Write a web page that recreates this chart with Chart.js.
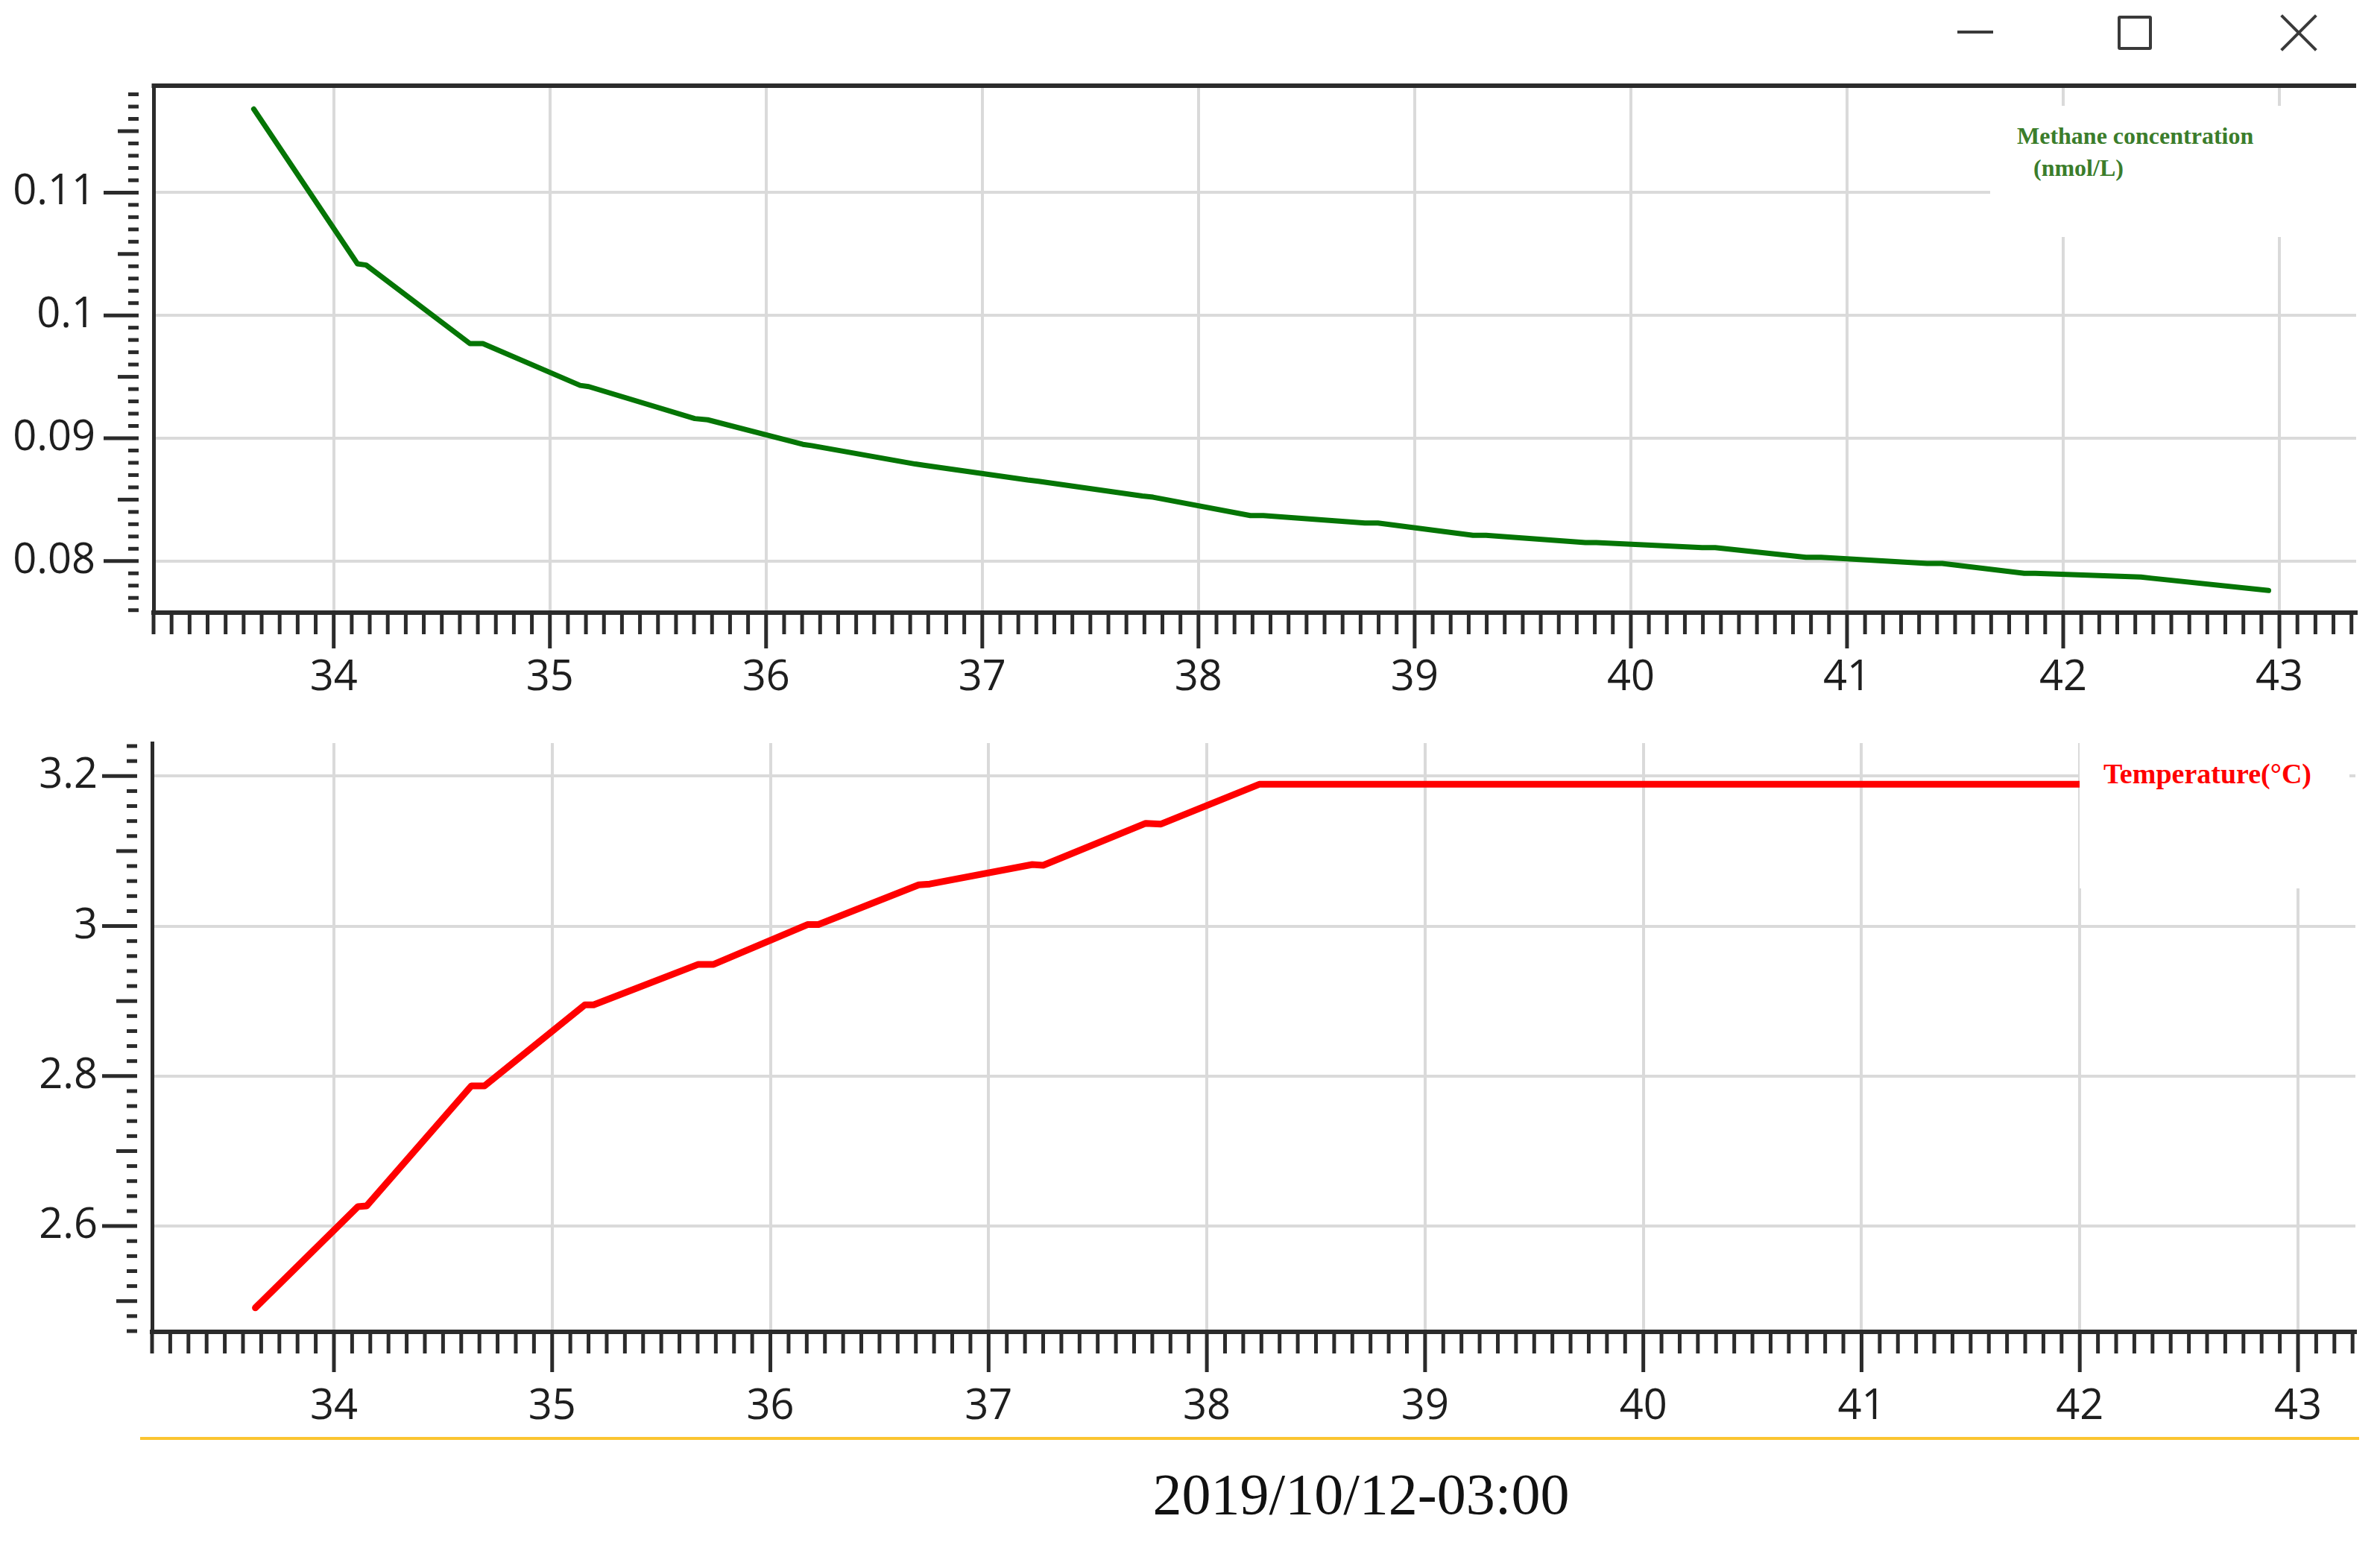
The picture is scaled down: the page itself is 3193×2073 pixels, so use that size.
<!DOCTYPE html>
<html>
<head>
<meta charset="utf-8">
<script src="https://cdn.jsdelivr.net/npm/chart.js@4.4.1/dist/chart.umd.min.js"></script>
<style>
  html, body { margin: 0; padding: 0; background: #fff; }
  body { position: relative; width: 3193px; height: 2073px; overflow: hidden; }
  canvas { position: absolute; left: 0; }
  #ch4-chart { top: 0; }
  #temp-chart { top: 960px; }
  .legend-box { position: absolute; background: #fff; }
  .legend-box span { position: absolute; white-space: nowrap; font-family: "Liberation Serif", "Times New Roman", serif; font-weight: bold; line-height: 1; }
  .win-min { position: absolute; left: 2626px; top: 41px; width: 48px; height: 4px; background: #3a3a3a; }
  .win-max { position: absolute; left: 2841px; top: 21px; width: 38px; height: 38px; border: 4px solid #3a3a3a; border-radius: 3px; }
  .win-close { position: absolute; left: 3060px; top: 20px; width: 48px; height: 48px; }
  .win-close::before, .win-close::after { content: ""; position: absolute; left: -9px; top: 22px; width: 66px; height: 4px; background: #3a3a3a; }
  .win-close::before { transform: rotate(45deg); }
  .win-close::after { transform: rotate(-45deg); }
  #rule { position: absolute; left: 188px; top: 1928px; width: 2977px; height: 4px; background: #fbc531; }
  #date-title { position: absolute; left: 1326px; top: 1966px; width: 1000px; text-align: center; font-family: "Liberation Serif", "Times New Roman", serif; font-size: 78px; line-height: 1; color: #111; }
</style>
</head>
<body>
<div class="win-min"></div>
<div class="win-max"></div>
<div class="win-close"></div>

<canvas id="ch4-chart" width="3193" height="960"></canvas>
<canvas id="temp-chart" width="3193" height="960"></canvas>

<div class="legend-box" style="left:2670px; top:142px; width:495px; height:176px;">
  <span style="left:36px; top:24px; font-size:32px; color:#3b7d2b;">Methane concentration</span>
  <span style="left:58px; top:67px; font-size:32px; color:#3b7d2b;">(nmol/L)</span>
</div>
<div class="legend-box" style="left:2790px; top:997px; width:362px; height:195px;">
  <span style="left:32px; top:22px; font-size:38px; color:#ff0000;">Temperature(°C)</span>
</div>

<div id="rule"></div>
<div id="date-title">2019/10/12-03:00</div>

<script>
// ---------------- Data (hours) ----------------
const CH4_TIME = [33.63, 34.11, 34.15, 34.63, 34.69, 35.14, 35.18, 35.67, 35.73, 36.17, 36.21,
  36.69, 36.73, 37.21, 37.26, 37.74, 37.79, 38.24, 38.30, 38.77, 38.83, 39.27, 39.33,
  39.79, 39.84, 40.33, 40.39, 40.81, 40.88, 41.37, 41.44, 41.82, 41.87, 42.36, 42.41, 42.95];
const CH4_VALUE = [0.1168, 0.1042, 0.1041, 0.0977, 0.0977, 0.0943, 0.0942, 0.0916, 0.0915, 0.0895, 0.0894,
  0.0879, 0.0878, 0.0866, 0.0865, 0.0853, 0.0852, 0.0837, 0.0837, 0.0831, 0.0831, 0.0821, 0.0821,
  0.0815, 0.0815, 0.0811, 0.0811, 0.0803, 0.0803, 0.0798, 0.0798, 0.0790, 0.0790, 0.0787, 0.0786, 0.0776];

const TEMP_TIME = [33.64, 34.11, 34.15, 34.63, 34.69, 35.15, 35.19, 35.67, 35.74, 36.17, 36.22,
  36.68, 36.73, 37.20, 37.25, 37.72, 37.79, 38.24, 42.00];
const TEMP_VALUE = [2.491, 2.626, 2.627, 2.787, 2.787, 2.895, 2.895, 2.949, 2.949, 3.002, 3.002,
  3.055, 3.056, 3.082, 3.081, 3.137, 3.136, 3.189, 3.189];

// axis ranges
const X_MIN = 33 + 2 / 12;
const CH4_X_MAX = 43.355, TEMP_X_MAX = 43.263;
const CH4_Y_MIN = 0.0758, CH4_Y_MAX = 0.1187;
const TEMP_Y_MIN = 2.459, TEMP_Y_MAX = 3.244;

const FRAME = "#2b2b2b";
const GRID = "#dadada";
const TICK_FONT = { family: "Open Sans", size: 56, lineHeight: 1 };

// ---------------- dense tick marks + top frame ----------------
const axisDecor = {
  id: "axisDecor",
  afterDraw(chart, args, opts) {
    const { ctx, chartArea: a, scales: { x, y } } = chart;
    ctx.save();
    ctx.strokeStyle = FRAME;
    // y: minor / half / major marks, detached from the frame
    const i0 = Math.ceil(y.min / opts.yMinor - 1e-6), i1 = Math.floor(y.max / opts.yMinor + 1e-6);
    for (let i = i0; i <= i1; i++) {
      const py = y.getPixelForValue(i * opts.yMinor);
      const len = i % 10 === 0 ? 47 : (i % 5 === 0 ? 28 : 14);
      ctx.lineWidth = 5;
      ctx.beginPath();
      ctx.moveTo(a.left - 20 - len, py);
      ctx.lineTo(a.left - 20, py);
      ctx.stroke();
    }
    // x: 12 marks per hour
    const j0 = Math.ceil(x.min * 12 - 1e-6), j1 = Math.floor(x.max * 12 + 1e-6);
    for (let j = j0; j <= j1; j++) {
      const px = x.getPixelForValue(j / 12);
      const major = j % 12 === 0;
      ctx.lineWidth = 5;
      ctx.beginPath();
      ctx.moveTo(px, a.bottom + 2);
      ctx.lineTo(px, a.bottom + (major ? opts.xMajor : 29));
      ctx.stroke();
    }
    if (opts.topBorder) {
      ctx.lineWidth = 6;
      ctx.beginPath();
      ctx.moveTo(a.left - 2.5, a.top);
      ctx.lineTo(a.right, a.top);
      ctx.stroke();
    }
    ctx.restore();
  }
};

function makePanel(canvasId, cfg) {
  return new Chart(document.getElementById(canvasId), {
    type: "line",
    data: {
      datasets: [{
        data: cfg.times.map((t, i) => ({ x: t, y: cfg.values[i] })),
        borderColor: cfg.color,
        borderWidth: cfg.lineWidth,
        pointRadius: 0,
        tension: 0,
        borderCapStyle: "round",
        borderJoinStyle: "round",
        fill: false
      }]
    },
    options: {
      responsive: false,
      devicePixelRatio: 1,
      animation: false,
      layout: { padding: { top: cfg.padTop, right: cfg.padRight, left: 0, bottom: 0 } },
      plugins: { legend: { display: false }, tooltip: { enabled: false }, axisDecor: cfg.decor },
      scales: {
        x: {
          type: "linear",
          min: X_MIN, max: cfg.xMax,
          // invisible tick length only pushes the labels down
          grid: { color: GRID, lineWidth: 4, drawTicks: true, tickLength: cfg.xLabelGap, tickColor: "rgba(0,0,0,0)" },
          border: { display: true, color: FRAME, width: 6 },
          ticks: {
            stepSize: 1, includeBounds: false, autoSkip: false, maxRotation: 0,
            padding: 0, color: "#1e1e1e", font: TICK_FONT,
            callback: v => String(Math.round(v))
          },
          afterFit: s => { s.height = cfg.xAxisHeight; }
        },
        y: {
          min: cfg.yMin, max: cfg.yMax,
          grid: { color: GRID, lineWidth: 4, drawTicks: true, tickLength: cfg.yLabelGap, tickColor: "rgba(0,0,0,0)" },
          border: { display: true, color: FRAME, width: 5 },
          ticks: {
            stepSize: cfg.yStep, includeBounds: false,
            padding: 0, color: "#1e1e1e", font: TICK_FONT,
            callback: cfg.yFormat
          },
          afterFit: s => { s.width = cfg.yAxisWidth; }
        }
      }
    },
    plugins: [axisDecor]
  });
}

// ================= METHANE PANEL =================
makePanel("ch4-chart", {
  times: CH4_TIME, values: CH4_VALUE, color: "#057505", lineWidth: 7,
  xMax: CH4_X_MAX, yMin: CH4_Y_MIN, yMax: CH4_Y_MAX, yStep: 0.01,
  yFormat: v => String(+v.toFixed(2)),
  padTop: 115, padRight: 32, xAxisHeight: 138, yAxisWidth: 206,
  xLabelGap: 60, yLabelGap: 78,
  decor: { yMinor: 0.001, xMajor: 48, topBorder: true }
});

// ================= TEMPERATURE PANEL =================
makePanel("temp-chart", {
  times: TEMP_TIME, values: TEMP_VALUE, color: "#ff0000", lineWidth: 9,
  xMax: TEMP_X_MAX, yMin: TEMP_Y_MIN, yMax: TEMP_Y_MAX, yStep: 0.2,
  yFormat: v => String(+v.toFixed(1)),
  padTop: 37, padRight: 33, xAxisHeight: 133, yAxisWidth: 204,
  xLabelGap: 73, yLabelGap: 73,
  decor: { yMinor: 0.02, xMajor: 54, topBorder: false }
});
</script>
</body>
</html>
